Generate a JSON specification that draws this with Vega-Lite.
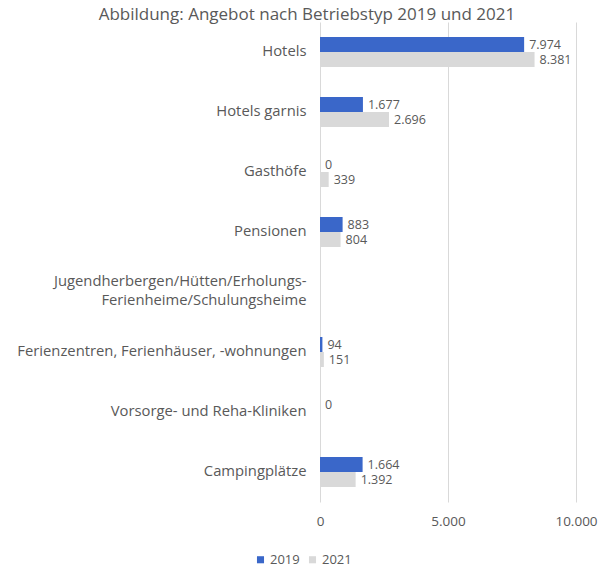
{
  "$schema": "https://vega.github.io/schema/vega-lite/v6.json",
  "autosize": "none",
  "width": 256,
  "height": 480,
  "padding": {"left": 320, "top": 22, "right": 26, "bottom": 65},
  "title": {"text": "Abbildung: Angebot nach Betriebstyp 2019 und 2021", "frame": "bounds", "anchor": "middle", "fontSize": 17, "font": "Open Sans", "fontWeight": "normal", "color": "#595959", "offset": -2},
  "config": {
    "locale": {"number": {"decimal": ",", "thousands": ".", "grouping": [3], "currency": ["", " €"]}},
    "view": {"stroke": null},
    "font": "Open Sans"
  },
  "data": {"values": [
    {"typ": "Hotels", "jahr": "2019", "wert": 7974},
    {"typ": "Hotels", "jahr": "2021", "wert": 8381},
    {"typ": "Hotels garnis", "jahr": "2019", "wert": 1677},
    {"typ": "Hotels garnis", "jahr": "2021", "wert": 2696},
    {"typ": "Gasthöfe", "jahr": "2019", "wert": 0},
    {"typ": "Gasthöfe", "jahr": "2021", "wert": 339},
    {"typ": "Pensionen", "jahr": "2019", "wert": 883},
    {"typ": "Pensionen", "jahr": "2021", "wert": 804},
    {"typ": "Jugendherbergen/Hütten/Erholungs-Ferienheime/Schulungsheime", "jahr": "2019", "wert": null},
    {"typ": "Jugendherbergen/Hütten/Erholungs-Ferienheime/Schulungsheime", "jahr": "2021", "wert": null},
    {"typ": "Ferienzentren, Ferienhäuser, -wohnungen", "jahr": "2019", "wert": 94},
    {"typ": "Ferienzentren, Ferienhäuser, -wohnungen", "jahr": "2021", "wert": 151},
    {"typ": "Vorsorge- und Reha-Kliniken", "jahr": "2019", "wert": 0},
    {"typ": "Vorsorge- und Reha-Kliniken", "jahr": "2021", "wert": null},
    {"typ": "Campingplätze", "jahr": "2019", "wert": 1664},
    {"typ": "Campingplätze", "jahr": "2021", "wert": 1392}
  ]},
  "encoding": {
    "y": {"field": "typ", "type": "nominal", "sort": null, "title": null,
      "scale": {"domain": ["Hotels", "Hotels garnis", "Gasthöfe", "Pensionen", "Jugendherbergen/Hütten/Erholungs-Ferienheime/Schulungsheime", "Ferienzentren, Ferienhäuser, -wohnungen", "Vorsorge- und Reha-Kliniken", "Campingplätze"], "paddingInner": 0.5, "paddingOuter": 0.25},
      "axis": {"domain": false, "ticks": false, "labelPadding": 14, "labelFontSize": 14.8, "labelColor": "#595959", "labelLimit": 400, "labelLineHeight": 19,
        "labelOffset": {"condition": {"test": "datum.value == 'Jugendherbergen/Hütten/Erholungs-Ferienheime/Schulungsheime'", "value": -10}, "value": 0},
        "labelExpr": "datum.value == 'Jugendherbergen/Hütten/Erholungs-Ferienheime/Schulungsheime' ? ['Jugendherbergen/Hütten/Erholungs-', 'Ferienheime/Schulungsheime'] : datum.value"}},
    "yOffset": {"field": "jahr", "type": "nominal", "sort": ["2019", "2021"]},
    "x": {"field": "wert", "type": "quantitative", "title": null,
      "scale": {"domain": [0, 10000], "nice": false},
      "axis": {"values": [0, 5000, 10000], "format": ",.0f", "domain": false, "ticks": false, "grid": true, "gridColor": "#D9D9D9", "labelFlush": false, "labelPadding": 12, "labelFontSize": 13.5, "labelColor": "#595959"}}
  },
  "layer": [
    {"mark": {"type": "bar"},
     "encoding": {"color": {"field": "jahr", "type": "nominal", "title": null,
        "scale": {"domain": ["2019", "2021"], "range": ["#3A67C9", "#D9D9D9"]},
        "legend": {"orient": "none", "direction": "horizontal", "legendX": -66, "legendY": 531, "symbolType": "square", "symbolSize": 50, "labelOffset": 3, "labelFontSize": 13, "labelColor": "#595959", "columnPadding": 6, "symbolStrokeWidth": 0}}}},
    {"transform": [{"filter": "datum.wert != null"}],
     "mark": {"type": "text", "align": "left", "dx": 5, "fontSize": 12.5, "color": "#595959"},
     "encoding": {"text": {"field": "wert", "type": "quantitative", "format": ",.0f"}}}
  ]
}
